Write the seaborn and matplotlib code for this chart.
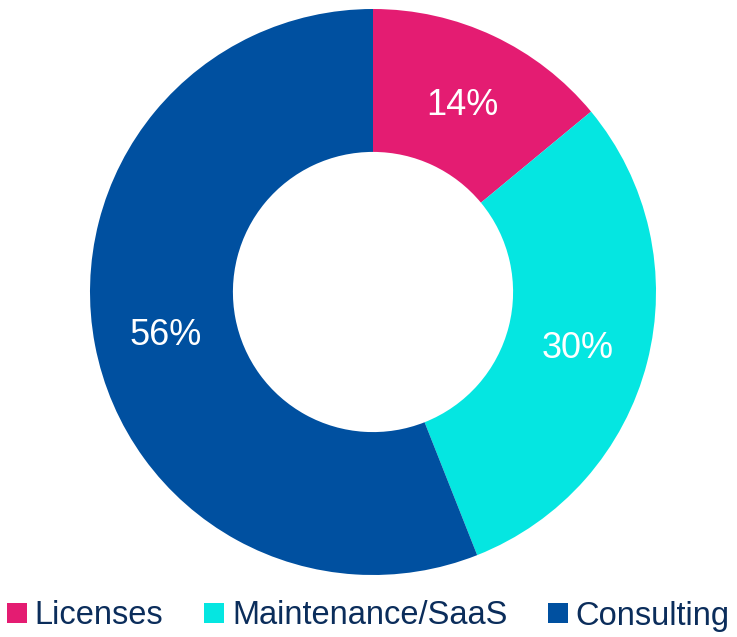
import matplotlib
matplotlib.use('Agg')
import matplotlib.pyplot as plt
import seaborn as sns
from matplotlib.patches import Patch

categories = ['Licenses', 'Maintenance/SaaS', 'Consulting']
shares = [14, 30, 56]
colors = ['#E41C72', '#05E6E1', '#0050A0']

sns.set_theme(style='white')
plt.rcParams['font.family'] = ['Liberation Sans', 'DejaVu Sans']

fig = plt.figure(figsize=(7.37, 6.37), dpi=100)
ax = fig.add_axes([(373 - 283) / 737, (345 - 283) / 637, 566 / 737, 566 / 637])

wedges, texts, autotexts = ax.pie(
    shares, colors=sns.color_palette(colors), startangle=90, counterclock=False,
    radius=1.0, autopct='%d%%', pctdistance=0.745,
    wedgeprops=dict(width=0.505, edgecolor='none'),
    textprops=dict(color='white', fontsize=26),
)
for t in autotexts:
    x, y = t.get_position()
    t.set_position((x, y - 0.015))
ax.set_xlim(-1, 1)
ax.set_ylim(-1, 1)
ax.set_aspect('equal')
ax.axis('off')

handles = [Patch(facecolor=c, edgecolor='none', label=l) for c, l in zip(colors, categories)]
leg = fig.legend(handles=handles, loc='center', bbox_to_anchor=(0.5, 1 - 616 / 637), ncol=3,
                 frameon=False, fontsize=23.5, handlelength=0.6, handleheight=0.6,
                 handletextpad=0.25, columnspacing=1.25, borderaxespad=0)
for t in leg.get_texts():
    t.set_color('#0B2D5B')

fig.savefig('out.png', dpi=100)
